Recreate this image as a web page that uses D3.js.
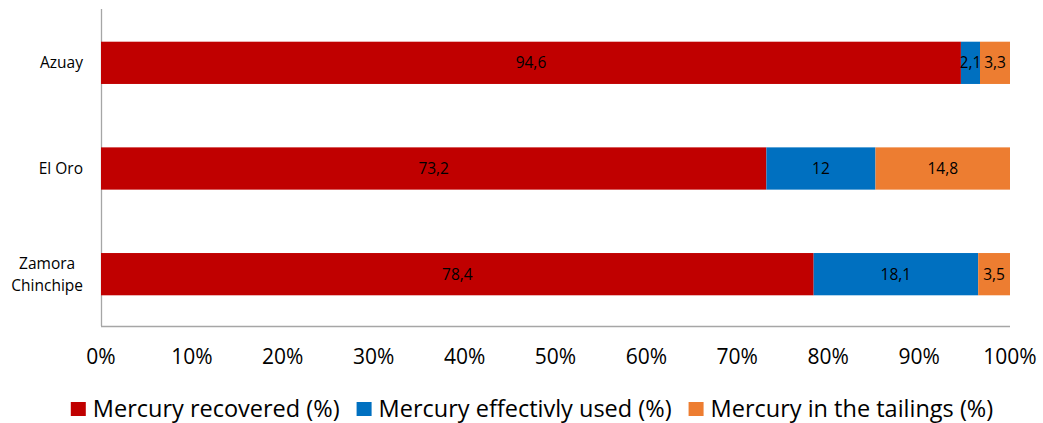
<!DOCTYPE html>
<html>
<head>
<meta charset="utf-8">
<script src="https://cdn.jsdelivr.net/npm/d3@7"></script>
<style>
  body { margin: 0; background: #fff; }
  svg { font-family: "Open Sans", Carlito, Calibri, sans-serif; }
</style>
</head>
<body>
<svg width="1043" height="423"></svg>
<script>
  var provinces = ["Azuay", "El Oro", "Zamora Chinchipe"];
  var provinceLines = [["Azuay"], ["El Oro"], ["Zamora", "Chinchipe"]];
  var seriesNames = ["Mercury recovered (%)", "Mercury effectivly used (%)", "Mercury in the tailings (%)"];
  var recovered = [94.6, 73.2, 78.4];
  var used = [2.1, 12, 18.1];
  var tailings = [3.3, 14.8, 3.5];
  var colors = ["#C00000", "#0070C0", "#ED7D31"];
  var tickValues = [0, 0.1, 0.2, 0.3, 0.4, 0.5, 0.6, 0.7, 0.8, 0.9, 1];

  var svg = d3.select("svg");
  var plotLeft = 101, plotRight = 1010, plotTop = 9, plotBottom = 326;

  var x = d3.scaleLinear().domain([0, 1]).range([plotLeft, plotRight]);
  var y = d3.scaleBand().domain(provinces).range([plotTop, plotBottom]).paddingInner(0.6).paddingOuter(0.3);

  var series = [recovered, used, tailings];
  var segs = [];
  provinces.forEach(function (p, i) {
    var total = recovered[i] + used[i] + tailings[i];
    var acc = 0;
    series.forEach(function (s, k) {
      segs.push({ province: p, k: k, v: s[i], x0: acc / total, x1: (acc + s[i]) / total });
      acc += s[i];
    });
  });

  // axis lines
  svg.append("line")
    .attr("x1", plotLeft + 0.5).attr("x2", plotLeft + 0.5)
    .attr("y1", plotTop).attr("y2", plotBottom)
    .attr("stroke", "#a6a6a6").attr("stroke-width", 1.3);
  svg.append("line")
    .attr("x1", plotLeft).attr("x2", plotRight)
    .attr("y1", plotBottom + 0.5).attr("y2", plotBottom + 0.5)
    .attr("stroke", "#a6a6a6").attr("stroke-width", 1.3);

  svg.append("g").selectAll("rect")
    .data(segs)
    .join("rect")
    .attr("x", function (d) { return x(d.x0); })
    .attr("width", function (d) { return x(d.x1) - x(d.x0); })
    .attr("y", function (d) { return y(d.province) + 1; })
    .attr("height", y.bandwidth())
    .attr("fill", function (d) { return colors[d.k]; });

  svg.append("g").selectAll("text")
    .data(segs)
    .join("text")
    .attr("x", function (d) { return (x(d.x0) + x(d.x1)) / 2; })
    .attr("y", function (d) { return y(d.province) + 1 + y.bandwidth() / 2; })
    .attr("dy", "0.36em")
    .attr("text-anchor", "middle")
    .attr("font-size", 15.5)
    .attr("fill", "#000")
    .text(function (d) { return String(d.v).replace(".", ","); });

  // category labels, right edge of the text block at 83
  var catG = svg.append("g");
  provinces.forEach(function (p, i) {
    var lines = provinceLines[i];
    var cy = y(p) + 1 + y.bandwidth() / 2;
    var t = catG.append("text")
      .attr("text-anchor", "middle")
      .attr("font-size", 15.5)
      .attr("fill", "#000");
    var spans = lines.map(function (w, j) {
      return t.append("tspan")
        .attr("y", cy + (j - (lines.length - 1) / 2) * 22)
        .attr("dy", "0.36em")
        .text(w);
    });
    var maxW = d3.max(spans, function (s) { return s.node().getComputedTextLength(); });
    spans.forEach(function (s) { s.attr("x", 83 - maxW / 2); });
  });

  // x tick labels
  svg.append("g").selectAll("text")
    .data(tickValues)
    .join("text")
    .attr("x", function (d) { return x(d); })
    .attr("y", 364)
    .attr("text-anchor", "middle")
    .attr("font-size", 21)
    .attr("fill", "#000")
    .text(d3.format(".0%"));

  // legend
  var legend = svg.append("g").attr("transform", "translate(0, 409)");
  var items = seriesNames.map(function (name, k) {
    var g = legend.append("g");
    g.append("rect")
      .attr("x", 0).attr("y", -7)
      .attr("width", 15).attr("height", 14)
      .attr("fill", colors[k]);
    var t = g.append("text")
      .attr("x", 22).attr("y", 0)
      .attr("dy", "0.35em")
      .attr("font-size", 23.5)
      .attr("fill", "#000")
      .text(name);
    return { g: g, w: 22 + t.node().getComputedTextLength() };
  });
  var gap = 17;
  var totalW = d3.sum(items, function (d) { return d.w; }) + gap * (items.length - 1);
  var lx = 532 - totalW / 2;
  items.forEach(function (it) {
    it.g.attr("transform", "translate(" + lx + ",0)");
    lx += it.w + gap;
  });
</script>
</body>
</html>
